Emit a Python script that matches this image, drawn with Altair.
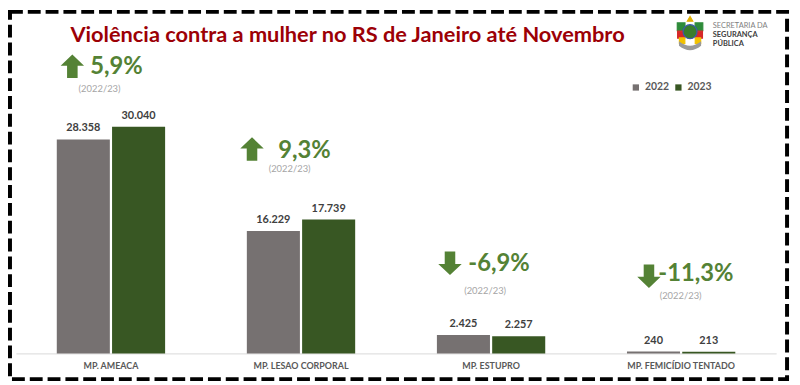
import altair as alt
import pandas as pd
from decimal import Decimal, ROUND_HALF_UP

# ---- data ----
categories = ["MP. AMEACA", "MP. LESAO CORPORAL", "MP. ESTUPRO", "MP. FEMICÍDIO TENTADO"]
years = ["2022", "2023"]
values_2022 = [28358, 16229, 2425, 240]
values_2023 = [30040, 17739, 2257, 213]
title_text = "Violência contra a mulher no RS de Janeiro até Novembro"
period_text = "(2022/23)"
logo_lines = ["SECRETARIA DA", "SEGURANÇA", "PÚBLICA"]

# ---- layout (pixel positions relative to the plot area) ----
W, H = 768, 295
annot_pos = [  # arrow centre x,y ; pct left x,y ; period centre x,y
    (57, 5, 75, 6, 84.5, 28),
    (238.5, 88.5, 265, 91, 276.5, 109),
    (438.5, 204, 457, 205, 474, 232),
    (639.5, 217, 649, 215, 671.5, 237),
]

GRAY = "#767171"
DGREEN = "#385723"
AGREEN = "#548235"
FONT = "Lato"


def fmt_int(v):
    return f"{v:,}".replace(",", ".")


def fmt_pct(p):
    d = Decimal(str(round(p, 6))).quantize(Decimal("0.1"), rounding=ROUND_HALF_UP)
    return f"{d}%".replace(".", ",")


rows = []
for c, a, b in zip(categories, values_2022, values_2023):
    rows.append({"cat": c, "year": "2022", "value": a, "label": fmt_int(a)})
    rows.append({"cat": c, "year": "2023", "value": b, "label": fmt_int(b)})
df = pd.DataFrame(rows)

one = pd.DataFrame({"k": [0]})

xenc = alt.X(
    "cat:N",
    sort=categories,
    scale=alt.Scale(paddingInner=0.43, paddingOuter=0.215),
    axis=alt.Axis(
        title=None,
        labelAngle=0,
        ticks=False,
        grid=False,
        domainColor="#d9d9d9",
        domainWidth=1,
        labelColor="#595959",
        labelFontSize=9,
        labelFont=FONT,
        labelFontWeight="bold",
        labelPadding=8,
    ),
)
xoff = alt.XOffset("year:N", sort=years, scale=alt.Scale(paddingInner=0.04, paddingOuter=0))
yenc = alt.Y("value:Q", scale=alt.Scale(domain=[0, 38700], nice=False, zero=True), axis=None)

bars = alt.Chart(df).mark_bar().encode(
    x=xenc,
    xOffset=xoff,
    y=yenc,
    color=alt.Color(
        "year:N",
        scale=alt.Scale(domain=years, range=[GRAY, DGREEN]),
        legend=alt.Legend(
            title=None,
            orient="none",
            legendX=621,
            legendY=21,
            direction="horizontal",
            symbolType="square",
            symbolSize=40,
            symbolStrokeWidth=0,
            labelFont=FONT,
            labelFontSize=10.5,
            labelFontWeight="bold",
            labelColor="#595959",
            labelOffset=4,
            columnPadding=4,
        ),
    ),
)

labels = alt.Chart(df).mark_text(
    baseline="alphabetic", dy=-8, font=FONT, fontSize=11, fontWeight="bold", color="#404040"
).encode(x=xenc, xOffset=xoff, y=yenc, text="label:N")

layers = [bars, labels]

UP = "M0,-1 L1,-0.05 L0.45,-0.05 L0.45,1 L-0.45,1 L-0.45,-0.05 L-1,-0.05 Z"
DOWN = "M0,1 L1,0.05 L0.45,0.05 L0.45,-1 L-0.45,-1 L-0.45,0.05 L-1,0.05 Z"

for (ax, ay, px, py, sx, sy), a, b in zip(annot_pos, values_2022, values_2023):
    pct = (b - a) / a * 100
    shape = UP if pct >= 0 else DOWN
    layers.append(
        alt.Chart(one).mark_point(shape=shape, filled=True, color=AGREEN, opacity=1, strokeWidth=0, size=560)
        .encode(x=alt.value(ax), y=alt.value(ay))
    )
    layers.append(
        alt.Chart(one).mark_text(align="left", baseline="middle", font=FONT, fontSize=24,
                                 fontWeight="bold", color=AGREEN)
        .encode(x=alt.value(px), y=alt.value(py), text=alt.value(fmt_pct(pct)))
    )
    layers.append(
        alt.Chart(one).mark_text(align="center", baseline="middle", font=FONT, fontSize=9.5,
                                 color="#a6a6a6")
        .encode(x=alt.value(sx), y=alt.value(sy), text=alt.value(period_text))
    )

# title
layers.append(
    alt.Chart(one).mark_text(align="center", baseline="middle", font=FONT, fontSize=22,
                             fontWeight="bold", color="#9c0006")
    .encode(x=alt.value(335), y=alt.value(-27), text=alt.value(title_text))
)

# logo emblem (simplified)
emblem = [
    ("square", 672, -35, 60, "#2e8b3a"),
    ("square", 690, -35, 60, "#2e8b3a"),
    ("square", 672, -27, 50, "#d62828"),
    ("square", 690, -27, 50, "#d62828"),
    ("square", 673, -21, 30, "#f2c200"),
    ("square", 689, -21, 30, "#f2c200"),
    ("circle", 681, -30, 200, "#3a7d2c"),
    ("triangle-up", 681, -43, 30, "#e0b000"),
]
for shp, ex, ey, es, ec in emblem:
    layers.append(
        alt.Chart(one).mark_point(shape=shp, filled=True, color=ec, opacity=1, size=es,
                                  stroke="#3b5ba8" if shp == "circle" else ec, strokeWidth=1.2)
        .encode(x=alt.value(ex), y=alt.value(ey))
    )
layers.append(
    alt.Chart(one).mark_point(shape="M-1,-0.2 Q0,0.6 1,-0.2 L1,0.2 Q0,1 -1,0.2 Z", filled=True,
                              color="#9a9a9a", opacity=1, size=500, strokeWidth=0)
    .encode(x=alt.value(681), y=alt.value(-18))
)
for i, (t, fw, col) in enumerate(zip(logo_lines, ["normal", "bold", "bold"], ["#7f7f7f", "#404040", "#404040"])):
    layers.append(
        alt.Chart(one).mark_text(align="left", baseline="middle", font=FONT, fontSize=7.5,
                                 fontWeight=fw, color=col)
        .encode(x=alt.value(704), y=alt.value(-36 + 9 * i), text=alt.value(t))
    )

# dashed border
layers.append(
    alt.Chart(one).mark_rect(fill="transparent", stroke="black", strokeWidth=4, strokeDash=[13, 5])
    .encode(x=alt.value(-6), x2=alt.value(779), y=alt.value(-50), y2=alt.value(321))
)

chart = (
    alt.layer(*layers)
    .properties(
        width=W,
        height=H,
        autosize=alt.AutoSizeParams(type="none"),
        padding={"left": 8, "top": 52, "right": 16, "bottom": 30},
        background="white",
        view=alt.ViewBackground(stroke="transparent", strokeWidth=0, fill="transparent"),
    )
    .configure_view(stroke="transparent", strokeWidth=0)
    .configure(font=FONT)
)

chart.save("out.html", embed_options={"renderer": "svg", "actions": False})
